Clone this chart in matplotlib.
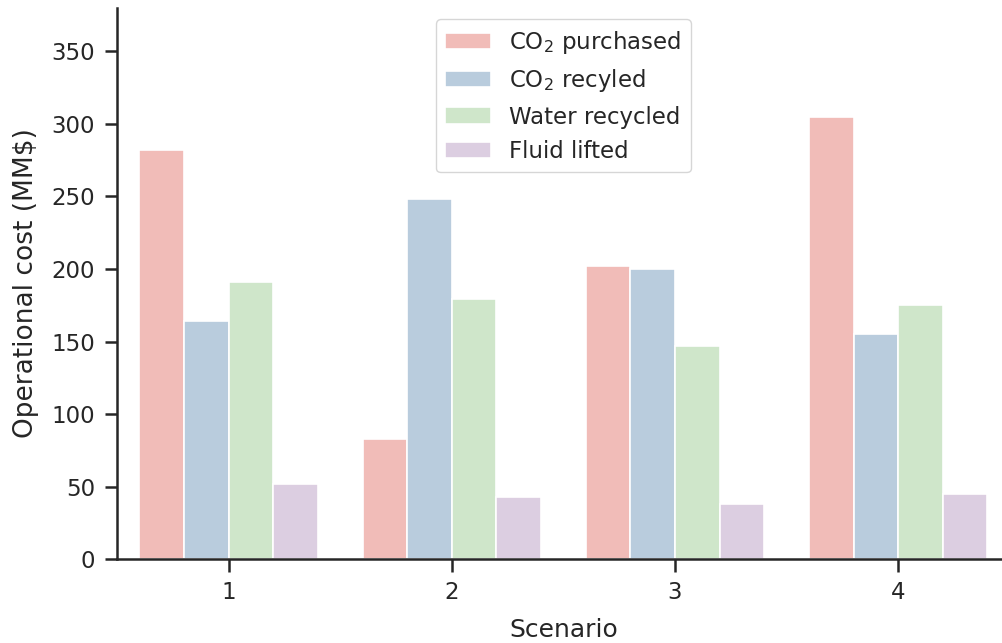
import numpy as np
import matplotlib
matplotlib.use("Agg")
import matplotlib.pyplot as plt
import seaborn as sns

# operational cost per scenario, MM$
scenarios = ["1", "2", "3", "4"]
series_names = ["CO$_2$ purchased", "CO$_2$ recyled", "Water recycled", "Fluid lifted"]
co2_purchased = [282, 83, 202, 305]
co2_recycled = [164, 248, 200, 155]
water_recycled = [191, 179, 147, 175]
fluid_lifted = [52, 43, 38, 45]
series = [co2_purchased, co2_recycled, water_recycled, fluid_lifted]

sns.set_style("ticks")
plt.rcParams["font.family"] = ["DejaVu Sans"]
colors = sns.color_palette("Pastel1", 4, desat=0.75)

fig = plt.figure(figsize=(10.03, 6.43), dpi=100)
ax = fig.add_axes([0.1167, 0.1306, 0.890, 0.857])

x = np.arange(len(scenarios))
width = 0.8 / len(series)
for i, (name, vals) in enumerate(zip(series_names, series)):
    offset = -0.4 + width * (i + 0.5)
    ax.bar(x + offset, vals, width, color=colors[i], label=name,
           edgecolor="white", linewidth=1.2)

ax.set_xlim(-0.5, 3.5)
ax.set_ylim(0, 380)
ax.set_yticks(np.arange(0, 351, 50))
ax.set_xticks(x)
ax.set_xticklabels(scenarios)
ax.tick_params(axis="both", labelsize=16.5, length=9, width=1.8, pad=7,
               color="#262626", labelcolor="#262626")
for side in ["left", "bottom"]:
    ax.spines[side].set_linewidth(1.8)
    ax.spines[side].set_color("#262626")
sns.despine(ax=ax)

ax.set_xlabel("Scenario", fontsize=18, color="#262626", labelpad=10)
ax.set_ylabel("Operational cost (MM$)", fontsize=19, color="#262626", labelpad=9)

ax.legend(loc="upper center", fontsize=16.5, handlelength=2.0, handleheight=0.7,
          borderpad=0.4, labelspacing=0.5, handletextpad=0.8, frameon=True)

fig.savefig("out.png", dpi=100)
